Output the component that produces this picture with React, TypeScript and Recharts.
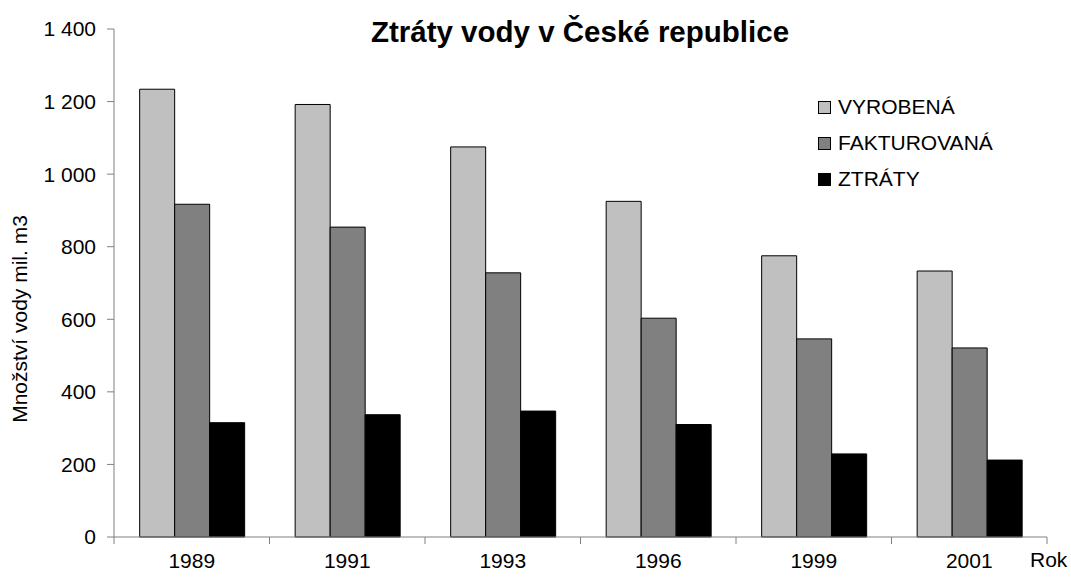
import { BarChart, Bar, XAxis, YAxis } from 'recharts';

const years = ['1989', '1991', '1993', '1996', '1999', '2001'];
const vyrobena = [1234, 1192, 1075, 925, 775, 733];
const fakturovana = [917, 854, 728, 603, 546, 521];
const ztraty = [315, 337, 347, 310, 229, 212];
const yTicks = [0, 200, 400, 600, 800, 1000, 1200, 1400];

const data = years.map((year, i) => ({
  year,
  vyrobena: vyrobena[i],
  fakturovana: fakturovana[i],
  ztraty: ztraty[i],
}));

const series = [
  { key: 'vyrobena', name: 'VYROBENÁ', color: '#C0C0C0' },
  { key: 'fakturovana', name: 'FAKTUROVANÁ', color: '#808080' },
  { key: 'ztraty', name: 'ZTRÁTY', color: '#000000' },
];

const font = 'Arial, "Liberation Sans", sans-serif';

const formatTick = (v: number) => String(v).replace(/\B(?=(\d{3})+(?!\d))/g, ' ');

function CategoryTick(props: any) {
  const { x, y, payload, index } = props;
  const off = payload.offset || 0;
  return (
    <g>
      <line x1={x - off} y1={y - 8} x2={x - off} y2={y - 1} stroke="#808080" />
      {index === years.length - 1 && (
        <line x1={x + off} y1={y - 8} x2={x + off} y2={y - 1} stroke="#808080" />
      )}
      <text x={x} y={y + 23} textAnchor="middle" fontSize={21} fontFamily={font} fill="#000">
        {payload.value}
      </text>
    </g>
  );
}

function AxisTitle() {
  return (
    <text
      x={0}
      y={0}
      transform="translate(27 319) rotate(-90)"
      textAnchor="middle"
      fontSize={21}
      fontFamily={font}
      fill="#000"
    >
      Množství vody mil. m3
    </text>
  );
}

export default function App() {
  return (
    <div style={{ position: 'absolute', left: 0, top: 0, width: 1071, height: 579, background: '#fff' }}>
      <div
        style={{
          position: 'absolute',
          left: 0,
          width: 1160,
          top: 15,
          lineHeight: '34px',
          textAlign: 'center',
          fontFamily: font,
          fontWeight: 'bold',
          fontSize: 29.5,
        }}
      >
        Ztráty vody v České republice
      </div>
      <div
        style={{
          position: 'absolute',
          left: 1030,
          top: 547,
          lineHeight: '25px',
          fontFamily: font,
          fontSize: 21,
        }}
      >
        Rok
      </div>
      <div
        style={{
          position: 'absolute',
          left: 818,
          top: 89,
          fontFamily: font,
          fontSize: 21,
          color: '#000',
          zIndex: 2,
        }}
      >
        {series.map((s) => (
          <div key={s.key} style={{ display: 'flex', alignItems: 'center', height: 36 }}>
            <span
              style={{
                width: 11,
                height: 11,
                background: s.color,
                border: '1px solid #000',
                marginRight: 7,
                display: 'inline-block',
              }}
            />
            {s.name}
          </div>
        ))}
      </div>
      <BarChart
        width={1071}
        height={579}
        data={data}
        margin={{ top: 29, right: 24, bottom: 0, left: 0 }}
        barCategoryGap="16.5%"
        barGap={0}
      >
        <XAxis
          dataKey="year"
          tick={<CategoryTick />}
          tickLine={false}
          axisLine={{ stroke: '#808080' }}
          interval={0}
          height={42}
        />
        <YAxis
          width={114}
          domain={[0, 1400]}
          ticks={yTicks}
          tickFormatter={formatTick}
          tickSize={7}
          tickMargin={11}
          tickLine={{ stroke: '#808080' }}
          axisLine={{ stroke: '#808080' }}
          tick={{ fontSize: 21, fontFamily: font, fill: '#000' }}
          label={<AxisTitle />}
        />
        {series.map((s) => (
          <Bar
            key={s.key}
            dataKey={s.key}
            name={s.name}
            fill={s.color}
            stroke="#000"
            strokeWidth={1}
            isAnimationActive={false}
          />
        ))}
      </BarChart>
    </div>
  );
}
